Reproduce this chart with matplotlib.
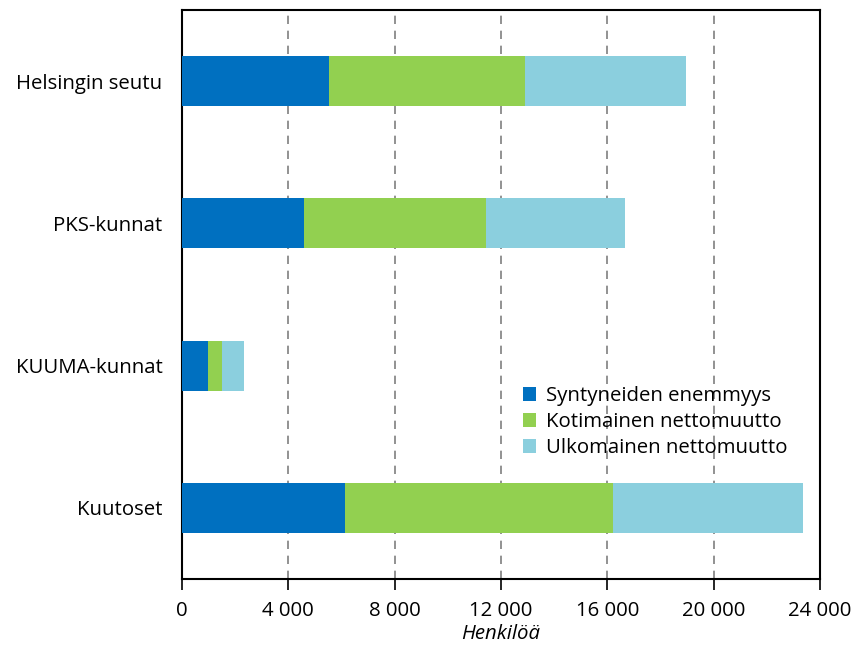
import matplotlib
matplotlib.use("Agg")
import matplotlib.pyplot as plt
import numpy as np

categories = ["Helsingin seutu", "PKS-kunnat", "KUUMA-kunnat", "Kuutoset"]
syntyneiden = [5545, 4590, 977, 6115]
kotimainen = [7350, 6830, 540, 10090]
ulkomainen = [6065, 5260, 800, 7145]
series_names = ["Syntyneiden enemmyys", "Kotimainen nettomuutto", "Ulkomainen nettomuutto"]
colors = ["#0070C0", "#92D050", "#8BCFDE"]
xticks = [0, 4000, 8000, 12000, 16000, 20000, 24000]
xtick_labels = ["0", "4 000", "8 000", "12 000", "16 000", "20 000", "24 000"]

plt.rcParams['font.family'] = ['Open Sans', 'DejaVu Sans']
FS = 14.7

fig = plt.figure(figsize=(8.57, 6.46), dpi=100)
ax = fig.add_axes([182/857, 1-579/646, (820-182)/857, (579-10)/646])

y = np.arange(len(categories))
left = np.zeros(len(categories))
for vals, name, c in zip([syntyneiden, kotimainen, ulkomainen], series_names, colors):
    ax.barh(y, vals, left=left, height=0.35, color=c, label=name, zorder=3)
    left += np.array(vals)

ax.set_ylim(len(categories)-0.5, -0.5)
ax.set_yticks(y)
ax.set_yticklabels(categories, fontsize=FS)
ax.tick_params(axis='y', length=0, pad=14)
ax.set_xlim(0, 24000)
ax.set_xticks(xticks)
ax.set_xticklabels(xtick_labels, fontsize=FS)
ax.tick_params(axis='x', direction='out', length=8, width=1.2, pad=8)
ax.set_xlabel("Henkilöä", fontsize=FS, style='italic', labelpad=2)

for xt in xticks[1:-1]:
    ax.axvline(xt, color='#7F7F7F', linestyle=(0, (5, 4)), linewidth=1.2, zorder=1)

for s in ax.spines.values():
    s.set_linewidth(1.5)
    s.set_color('black')

leg = ax.legend(loc='upper left', bbox_to_anchor=((515-182)/638, 1-(378-10)/569),
                frameon=False, fontsize=FS, handlelength=0.65, handleheight=0.65,
                handletextpad=0.45, labelspacing=0.3, borderaxespad=0)

fig.savefig("out.png", dpi=100)
